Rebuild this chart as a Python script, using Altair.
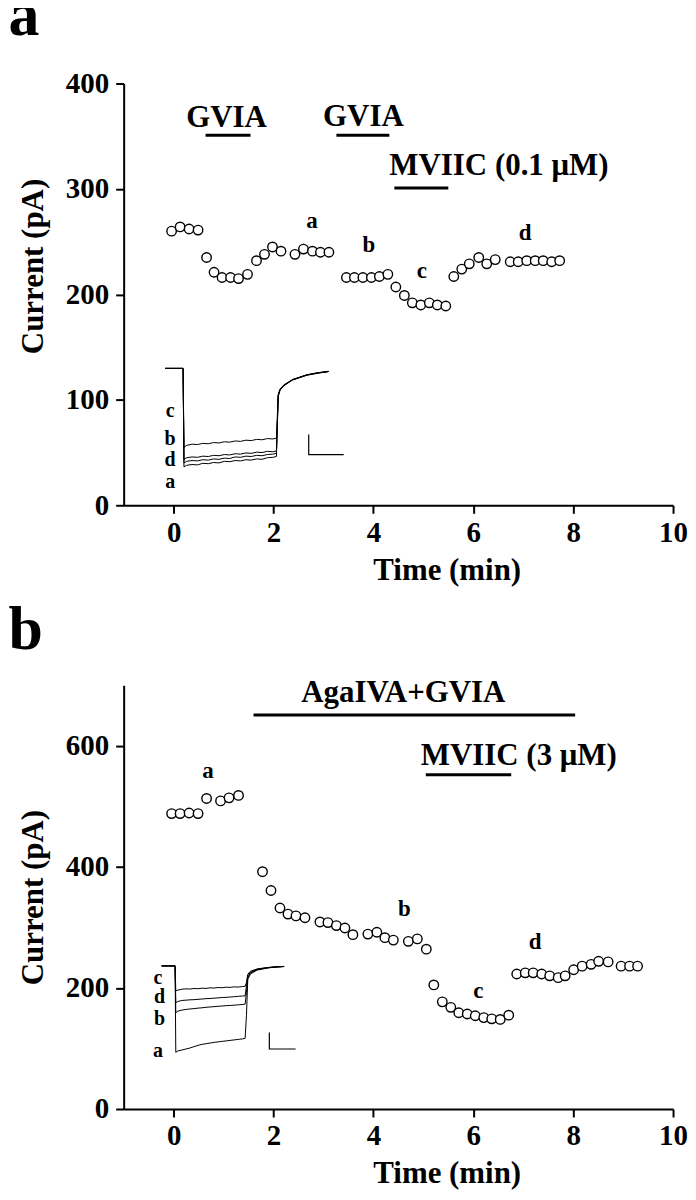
import altair as alt
import pandas as pd

FONT = "Liberation Serif"

# ---------------- Panel a ----------------
a_time = [-0.04, 0.13, 0.31, 0.49, 0.66, 0.81, 0.97, 1.14, 1.30, 1.48, 1.66, 1.82, 1.98, 2.15,
          2.43, 2.60, 2.78, 2.94, 3.11,
          3.46, 3.62, 3.79, 3.96, 4.12, 4.29,
          4.45, 4.62, 4.78, 4.95, 5.12, 5.28, 5.45,
          5.61, 5.77, 5.92, 6.11, 6.27, 6.44, 6.74, 6.90, 7.07, 7.24, 7.40, 7.57, 7.73]
a_current = [260, 264, 262, 261, 235, 221, 216, 216, 215, 219, 232, 238, 245, 241,
             238, 243, 241, 240, 240,
             216, 216, 216, 216, 217, 219,
             207, 199, 192, 190, 192, 190, 189,
             217, 224, 229, 235, 229, 233, 231, 231, 232, 232, 232, 231, 232]

a_drug_names = ["GVIA", "GVIA", "MVIIC (0.1 \u03bcM)"]
a_drug_start = [0.64, 3.26, 4.42]
a_drug_end = [1.54, 4.32, 5.50]
a_drug_level = [351, 351, 301]
a_drug_label_t = [1.06, 3.80, 4.32]
a_drug_label_I = [359, 360, 313]
a_drug_align = ["center", "center", "left"]

a_letters = ["a", "b", "c", "d"]
a_letter_t = [2.77, 3.91, 4.97, 7.04]
a_letter_I = [270, 247, 222, 258]

# inset traces (ms, pA)
trace_ms = [0, 5, 10, 10.5, 12, 15, 18, 21, 24, 27, 30, 33, 36, 39, 42, 45, 48, 51, 54, 57,
            60, 62, 63, 64, 66, 71, 79, 85, 91]
a_trace_a = [0, 0, 0, -247, -243, -241, -242, -238, -239, -236, -237, -233, -234, -231, -232,
             -229, -230, -227, -228, -224, -223, -221, -70, -55, -44, -29, -17, -12, -8]
a_trace_b = [0, 0, 0, -228, -224, -222, -223, -220, -221, -218, -219, -216, -217, -214, -215,
             -212, -213, -210, -211, -208, -209, -207, -68, -53, -43, -28, -16, -11, -8]
a_trace_c = [0, 0, 0, -198, -193, -190, -191, -188, -189, -186, -187, -184, -185, -182, -183,
             -180, -181, -178, -179, -176, -177, -175, -66, -52, -42, -28, -16, -11, -7]
a_trace_d = [0, 0, 0, -237, -233, -231, -232, -229, -230, -227, -228, -225, -226, -222, -223,
             -220, -221, -218, -219, -216, -215, -213, -69, -54, -43, -29, -17, -12, -8]
a_inset_letters = ["c", "b", "d", "a"]
a_inset_letter_ms = [2.8, 2.8, 2.8, 2.8]
a_inset_letter_pA = [-106, -177, -231, -286]
a_bar_ms = [80, 80, 99.5]
a_bar_pA = [-166, -216, -216]

# ---------------- Panel b ----------------
b_time = [-0.04, 0.13, 0.31, 0.49, 0.66, 0.94, 1.11, 1.30,
          1.78, 1.95, 2.13, 2.29, 2.45, 2.63, 2.93, 3.09, 3.26, 3.43, 3.59, 3.89, 4.07, 4.23,
          4.40, 4.70, 4.88, 5.06,
          5.21, 5.38, 5.55, 5.71, 5.88, 6.04, 6.21, 6.37, 6.54, 6.71,
          6.87, 7.04, 7.20, 7.37, 7.53, 7.70, 7.84, 8.01, 8.18, 8.36, 8.51, 8.70, 8.96, 9.13, 9.29]
b_current = [488, 488, 489, 488, 513, 509, 514, 518,
             392, 361, 332, 322, 319, 316, 309, 308, 303, 299, 288, 289, 292, 283,
             279, 277, 281, 264,
             205, 177, 168, 159, 157, 154, 151, 149, 148, 155,
             223, 225, 225, 223, 220, 217, 220, 230, 236, 239, 244, 243, 236, 236, 236]

b_drug_names = ["AgaIVA+GVIA", "MVIIC (3 \u03bcM)"]
b_drug_start = [1.60, 5.05]
b_drug_end = [8.04, 6.76]
b_drug_level = [651, 552]
b_drug_label_t = [4.60, 4.95]
b_drug_label_I = [673, 569]
b_drug_align = ["center", "left"]

b_letters = ["a", "b", "c", "d"]
b_letter_t = [0.69, 4.62, 6.10, 7.24]
b_letter_I = [558, 331, 195, 276]

b_trace_a = [0, 0, 0, -520, -512, -506, -500, -494, -486, -478, -472, -468, -464, -460, -457,
             -454, -451, -448, -445, -442, -439, -436, -300, -80, -48, -25, -12, -7, -4]
b_trace_b = [0, 0, 0, -282, -272, -266, -262, -259, -257, -254, -252, -249, -247, -245, -243,
             -241, -239, -238, -236, -234, -232, -230, -160, -70, -42, -22, -11, -6, -3]
b_trace_c = [0, 0, 0, -150, -146, -140, -138, -139, -136, -137, -134, -135, -132, -133, -130,
             -131, -128, -129, -126, -127, -124, -123, -100, -50, -32, -18, -9, -5, -3]
b_trace_d = [0, 0, 0, -222, -214, -208, -206, -204, -203, -201, -199, -197, -196, -194, -192,
             -190, -189, -187, -185, -183, -181, -180, -120, -60, -38, -20, -10, -6, -3]
b_inset_letters = ["c", "d", "b", "a"]
b_inset_letter_ms = [-2.8, -1.6, -1.6, -2.8]
b_inset_letter_pA = [-70, -190, -317, -510]
b_bar_ms = [80, 80, 99.5]
b_bar_pA = [-400, -500, -500]

X_TICKS = [0, 2, 4, 6, 8, 10]
WIDTH = 551


def traces_frame(traces):
    rows = []
    for name, vals in traces.items():
        for i, (m, v) in enumerate(zip(trace_ms, vals)):
            rows.append({"ms": m, "pA": v, "trace": name, "i": i})
    return pd.DataFrame(rows)


def make_panel(letter, t, cur, ydom, yticks, height, names, starts, ends, levels,
               lab_t, lab_I, aligns, letters, let_t, let_I,
               traces, in_letters, in_ms, in_pA, bar_ms, bar_pA,
               in_xrange, in_ydom, in_yrange, title_y, title_offset):
    xs = alt.Scale(domain=[-1, 10], nice=False, zero=False)
    ys = alt.Scale(domain=ydom, nice=False, zero=False)
    xaxis = alt.Axis(values=X_TICKS, title="Time (min)", tickSize=8, labelPadding=5,
                     titlePadding=8, labelFlush=False, titleX=324)
    yaxis_kw = dict(values=yticks, title="Current (pA)", tickSize=8, labelPadding=7,
                    titlePadding=16, labelFlush=False)
    if title_y is not None:
        yaxis_kw["titleY"] = title_y
    yaxis = alt.Axis(**yaxis_kw)

    pts = pd.DataFrame({"t": t, "I": cur})
    points = alt.Chart(pts).mark_point(shape="circle", filled=False, fill="white",
                                       fillOpacity=1, stroke="black", strokeWidth=1.4,
                                       size=90, opacity=1).encode(
        x=alt.X("t:Q", scale=xs, axis=xaxis),
        y=alt.Y("I:Q", scale=ys, axis=yaxis),
    )
    drugs = pd.DataFrame({"name": names, "start": starts, "end": ends, "level": levels,
                          "lt": lab_t, "lI": lab_I, "align": aligns})
    bars = alt.Chart(drugs).mark_rule(color="black", strokeWidth=3).encode(
        x="start:Q", x2="end:Q", y="level:Q")
    txt_c = alt.Chart(drugs[drugs["align"] == "center"]).mark_text(
        font=FONT, fontSize=31, fontWeight="bold", align="center", baseline="alphabetic",
        color="black").encode(x="lt:Q", y="lI:Q", text="name:N")
    txt_l = alt.Chart(drugs[drugs["align"] == "left"]).mark_text(
        font=FONT, fontSize=31, fontWeight="bold", align="left", baseline="alphabetic",
        color="black").encode(x="lt:Q", y="lI:Q", text="name:N")
    lets = pd.DataFrame({"l": letters, "t": let_t, "I": let_I})
    letter_marks = alt.Chart(lets).mark_text(
        font=FONT, fontSize=23, fontWeight="bold", align="center", baseline="middle",
        color="black").encode(x="t:Q", y="I:Q", text="l:N")
    main = alt.layer(points, bars, txt_c, txt_l, letter_marks)

    ixs = alt.Scale(domain=[0, 100], range=in_xrange, nice=False, zero=False)
    iys = alt.Scale(domain=in_ydom, range=in_yrange, nice=False, zero=False)
    tdf = traces_frame(traces)
    tr = alt.Chart(tdf).mark_line(color="black", strokeWidth=1).encode(
        x=alt.X("ms:Q", scale=ixs, axis=None),
        y=alt.Y("pA:Q", scale=iys, axis=None),
        detail="trace:N", order="i:Q")
    ildf = pd.DataFrame({"l": in_letters, "ms": in_ms, "pA": in_pA})
    il = alt.Chart(ildf).mark_text(font=FONT, fontSize=20, fontWeight="bold",
                                   align="center", baseline="middle", color="black").encode(
        x=alt.X("ms:Q", scale=ixs, axis=None), y=alt.Y("pA:Q", scale=iys, axis=None),
        text="l:N")
    sb = pd.DataFrame({"ms": bar_ms, "pA": bar_pA, "k": list(range(len(bar_ms)))})
    sbar = alt.Chart(sb).mark_line(color="black", strokeWidth=1.2).encode(
        x=alt.X("ms:Q", scale=ixs, axis=None), y=alt.Y("pA:Q", scale=iys, axis=None),
        order="k:Q")
    inset = alt.layer(tr, il, sbar)

    return alt.layer(main, inset).resolve_scale(x="independent", y="independent").properties(
        width=WIDTH, height=height,
        title=alt.TitleParams(text=letter, anchor="start", fontSize=62, font=FONT,
                              fontWeight="bold", color="black", offset=title_offset, dx=-9))


panel_a = make_panel(
    "a", a_time, a_current, [0, 400], [0, 100, 200, 300, 400], 423,
    a_drug_names, a_drug_start, a_drug_end, a_drug_level, a_drug_label_t, a_drug_label_I,
    a_drug_align, a_letters, a_letter_t, a_letter_I,
    {"a": a_trace_a, "b": a_trace_b, "c": a_trace_c, "d": a_trace_d},
    a_inset_letters, a_inset_letter_ms, a_inset_letter_pA, a_bar_ms, a_bar_pA,
    [41.6, 221.6], [-300, 0], [405.7, 285.7], 183, 22)

panel_b = make_panel(
    "b", b_time, b_current, [0, 700], [0, 200, 400, 600], 425,
    b_drug_names, b_drug_start, b_drug_end, b_drug_level, b_drug_label_t, b_drug_label_I,
    b_drug_align, b_letters, b_letter_t, b_letter_I,
    {"a": b_trace_a, "b": b_trace_b, "c": b_trace_c, "d": b_trace_d},
    b_inset_letters, b_inset_letter_ms, b_inset_letter_pA, b_bar_ms, b_bar_pA,
    [38.1, 173.1], [-600, 0], [381.5, 281.5], None, 14.5)

chart = alt.vconcat(panel_a, panel_b, spacing=13.5).configure_axis(
    labelFont=FONT, titleFont=FONT, labelFontWeight="bold", titleFontWeight="bold",
    labelFontSize=29, titleFontSize=31, labelColor="black", titleColor="black",
    domainColor="black", tickColor="black", domainWidth=2, tickWidth=2, grid=False
).configure_view(stroke=None).properties(
    padding={"left": 0, "top": -25, "right": 0, "bottom": 5}, background="white")

chart.save("out.html", embed_options={"renderer": "svg", "actions": False})
